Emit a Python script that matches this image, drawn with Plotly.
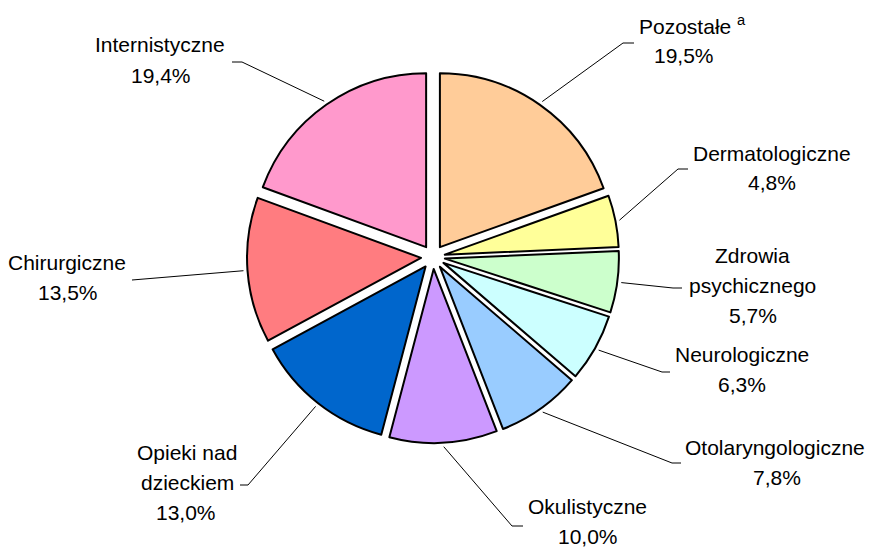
import math
import plotly.graph_objects as go

# ---- data ----
categories = ["Pozostałe", "Dermatologiczne", "Zdrowia psychicznego", "Neurologiczne",
              "Otolaryngologiczne", "Okulistyczne", "Opieki nad dzieckiem",
              "Chirurgiczne", "Internistyczne"]
shares = [19.5, 4.8, 5.7, 6.3, 7.8, 10.0, 13.0, 13.5, 19.4]
label_lines = [["Pozostałe <sup>a</sup>"], ["Dermatologiczne"], ["Zdrowia", "psychicznego"],
               ["Neurologiczne"], ["Otolaryngologiczne"], ["Okulistyczne"],
               ["Opieki nad", "dzieckiem"], ["Chirurgiczne"], ["Internistyczne"]]
colors = ["#FFCC99", "#FFFF99", "#CCFFCC", "#CCFFFF", "#99CCFF", "#CC99FF",
          "#0066CC", "#FF7C80", "#FF99CC"]

# ---- layout (pixels) ----
W, H = 870, 547
CX, CY = 433, 257
R = 174
PULLPX = 12
PULL = PULLPX / R
FONT = dict(family="Liberation Sans, Arial, sans-serif", size=21, color="black")
LINE_SP = 30
# (name centre x, first line y, percent centre x)
label_pos = [(692, 25, 684), (772, 153, 772), (752, 255, 753), (742, 354, 742),
             (775, 447, 777), (587, 506, 588), (187, 452, 186), (67, 262, 68), (160, 45, 161)]
# leader elbow (x, y) and horizontal end x
leader = [(623, 43, 634), (678, 169, 688), (673, 288, 682), (662, 372, 670),
          (672, 463, 681), (512, 526, 523), (248, 485, 240), (132, 280, 132), (242, 62, 232)]

def px(x):
    return x / W

def py(y):
    return 1 - y / H

outer = R + PULLPX
fig = go.Figure(go.Pie(
    labels=categories, values=shares, sort=False, direction="clockwise", rotation=0,
    pull=[PULL] * len(shares),
    marker=dict(colors=colors, line=dict(color="black", width=2)),
    textinfo="none", hoverinfo="label+percent", showlegend=False,
    domain=dict(x=[px(CX - outer), px(CX + outer)], y=[py(CY + outer), py(CY - outer)]),
))

annotations = []
shapes = []
total = sum(shares)
cum = 0.0
for i, v in enumerate(shares):
    mid = (cum + v / 2) / total * 2 * math.pi
    cum += v
    rr = outer + 4
    sx = CX + rr * math.sin(mid)
    sy = CY - rr * math.cos(mid)
    ex, ey, hx = leader[i]
    shapes.append(dict(type="path", xref="paper", yref="paper",
                       path=f"M {px(sx)} {py(sy)} L {px(ex)} {py(ey)} L {px(hx)} {py(ey)}",
                       line=dict(color="black", width=1)))
    nx, ny, pcx = label_pos[i]
    lines = label_lines[i]
    for j, t in enumerate(lines):
        annotations.append(dict(x=px(nx), y=py(ny + j * LINE_SP), xref="paper", yref="paper",
                                text=t, showarrow=False, xanchor="center", yanchor="middle",
                                font=FONT))
    pct = f"{v:.1f}".replace(".", ",") + "%"
    annotations.append(dict(x=px(pcx), y=py(ny + len(lines) * LINE_SP), xref="paper", yref="paper",
                            text=pct, showarrow=False, xanchor="center", yanchor="middle",
                            font=FONT))

fig.update_layout(
    width=W, height=H, margin=dict(l=0, r=0, t=0, b=0),
    paper_bgcolor="white", plot_bgcolor="white",
    annotations=annotations, shapes=shapes,
)
fig.write_html("out.html", config={"displayModeBar": False},
               post_script="document.body.style.margin='0';")
